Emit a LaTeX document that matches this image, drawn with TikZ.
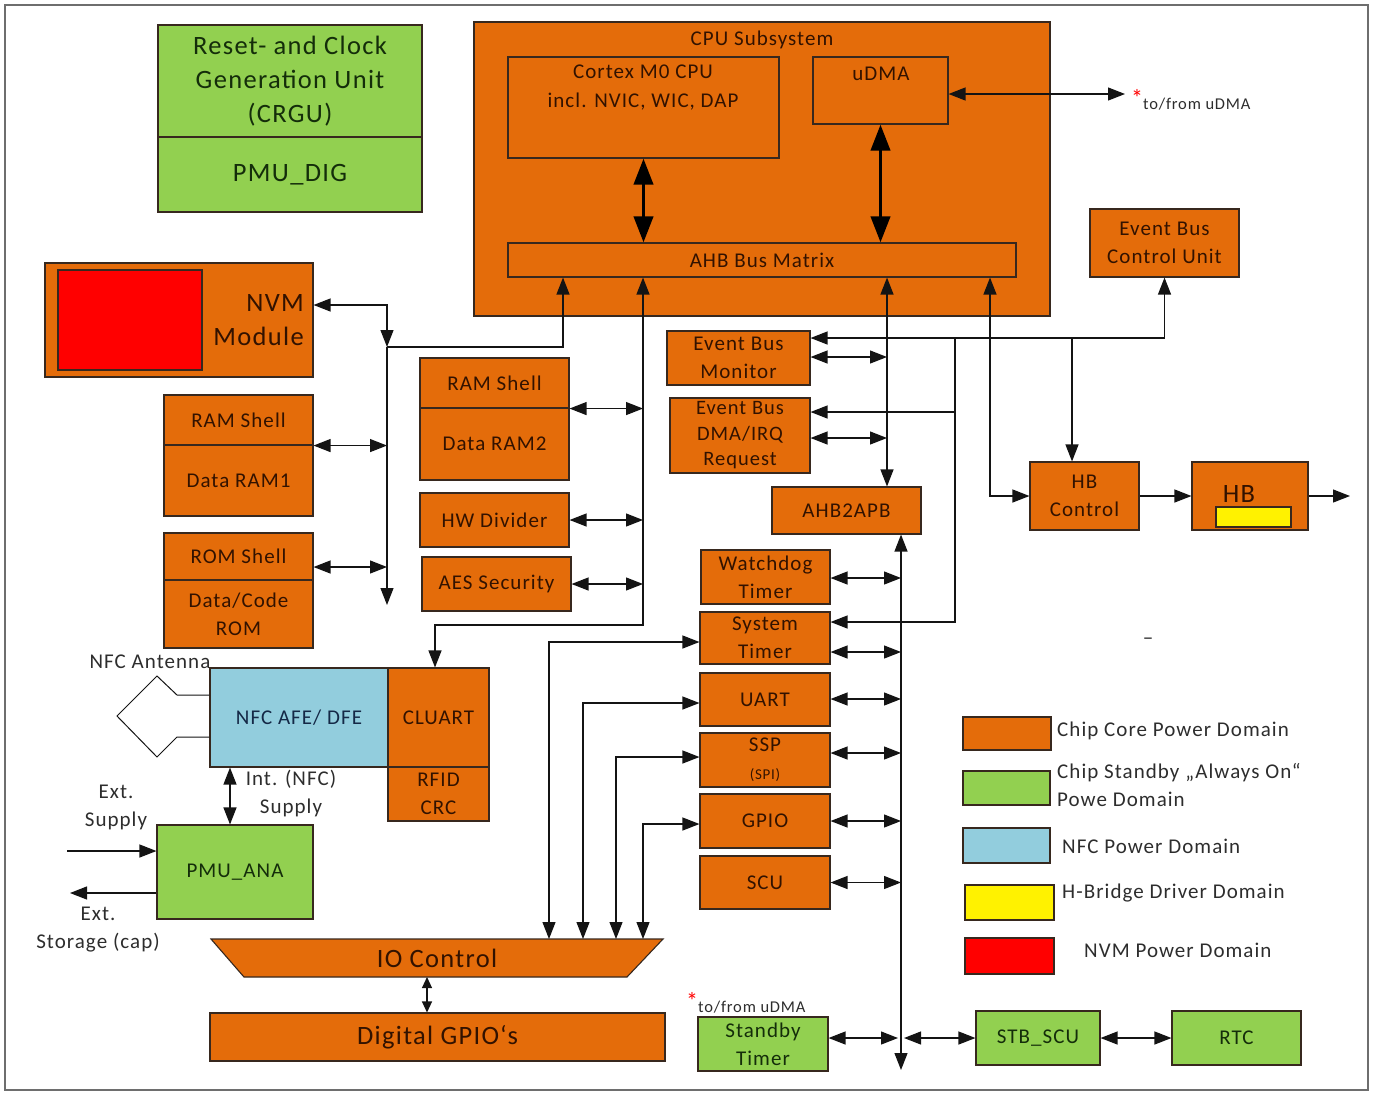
\documentclass[tikz,border=0pt]{standalone}
\usepackage{fontspec}
\setmainfont{Carlito}[LetterSpace=5]
\usetikzlibrary{arrows.meta,calc}
\definecolor{org}{RGB}{228,108,10}
\definecolor{grn}{RGB}{146,208,80}
\definecolor{nfcb}{RGB}{146,205,221}
\definecolor{edge}{RGB}{55,40,30}
\definecolor{txto}{RGB}{50,18,0}
\definecolor{txtg}{RGB}{20,45,10}
\definecolor{txtb}{RGB}{20,40,70}
\definecolor{txtd}{RGB}{45,45,45}
\definecolor{ln}{RGB}{20,20,20}
\definecolor{framec}{RGB}{110,110,110}
\newcommand\fntM{\fontsize{21}{28}\selectfont}
\newcommand\fntL{\fontsize{26.5}{34}\selectfont}
\newcommand\fntC{\fontsize{21}{29}\selectfont}
\newcommand\fntD{\fontsize{20.5}{25.5}\selectfont}
\newcommand\fntT{\fontsize{16.5}{20}\selectfont}
\newcommand\redstar{\textcolor{red}{\fontsize{24}{24}\selectfont\raisebox{3pt}{*}}}
\begin{document}
\begin{tikzpicture}[x=1pt,y=-1pt,
  rect/.style args={#1/#2/#3/#4}{minimum width={(#3)-(#1)}, minimum height={(#4)-(#2)}, at={({((#1)+(#3))/2},{((#2)+(#4))/2})}},
  box/.style={draw=edge, line width=1.1pt, inner sep=0pt, align=center, font=\fntM, text=txto},
  obox/.style={box, fill=org},
  gbox/.style={box, fill=grn, text=txtg},
  lbl/.style={inner sep=0pt, align=center, font=\fntM, text=txtd},
  con/.style={draw=ln, line width=1.2pt, -{Triangle[length=17pt,width=13pt]}},
  bi/.style={draw=ln, line width=1.2pt, {Triangle[length=17pt,width=13pt]}-{Triangle[length=17pt,width=13pt]}},
  bism/.style={draw=ln, line width=1.2pt, {Triangle[length=11pt,width=10pt]}-{Triangle[length=11pt,width=10pt]}},
  thk/.style={draw=black, line width=3.8pt, {Triangle[length=26pt,width=19pt]}-{Triangle[length=26pt,width=19pt]}},
]
\useasboundingbox (0,0) rectangle (1375,1093);
\draw[framec, line width=1.2pt] (5,5) rectangle (1368,1090);

% CRGU
\node[gbox, rect=158/25/422/137, font=\fntL] (crgu) {Reset- and Clock\\Generation Unit\\(CRGU)};
\node[gbox, rect=158/137/422/212, font=\fntL] (pmudig) {PMU\_DIG};

% CPU subsystem
\node[obox, rect=474/22/1050/316] (cpu) {};
\node[lbl, text=txto] (cputitle) at (762,40) {CPU Subsystem};
\node[obox, rect=508/57/779/158] (cortex) {};
\node[lbl, text=txto, font=\fntC] (cortext) at (643,88) {Cortex M0 CPU\\incl. NVIC, WIC, DAP};
\node[obox, rect=813/57/948/124] (udma) {};
\node[lbl, text=txto] (udmatext) at (881,74) {uDMA};
\node[obox, rect=508/243/1016/277] (ahb) {AHB Bus Matrix};
\coordinate (udmaout) at (1125,94);
\node[lbl, font=\fntT, anchor=west] (tfu1) at (1131,100) {\redstar to/from uDMA};

\node[obox, rect=1090/209/1239/277] (ebcu) {Event Bus\\Control Unit};

% NVM and memories
\node[obox, rect=45/263/313/377] (nvm) {};
\node[box, fill=red, rect=58/270/202/370] (nvmred) {};
\node[lbl, text=txto, font=\fntL, align=right, anchor=east] (nvmtext) at (304,320) {NVM\\Module};
\node[obox, rect=164/395/313/445] (ram1s) {RAM Shell};
\node[obox, rect=164/445/313/516] (ram1d) {Data RAM1};
\node[obox, rect=164/533/313/580] (roms) {ROM Shell};
\node[obox, rect=164/580/313/648] (romd) {Data/Code\\ROM};
\node[obox, rect=420/358/569/408] (ram2s) {RAM Shell};
\node[obox, rect=420/408/569/480] (ram2d) {Data RAM2};
\node[obox, rect=420/493/569/547] (hwdiv) {HW Divider};
\node[obox, rect=422/557/571/611] (aes) {AES Security};

% event bus, bridge, peripherals
\node[obox, rect=667/331/810/385] (ebm) {Event Bus\\Monitor};
\node[obox, rect=670/398/810/473, font=\fntD] (ebd) {Event Bus\\DMA/IRQ\\Request};
\node[obox, rect=772/487/921/534] (apb) {AHB2APB};
\node[obox, rect=701/550/830/604] (wdt) {Watchdog\\Timer};
\node[obox, rect=700/612/830/664] (stm) {System\\Timer};
\node[obox, rect=700/673/830/726] (uart) {UART};
\node[obox, rect=700/733/830/787] (ssp) {SSP\\{\fontsize{15}{15}\selectfont (SPI)}};
\node[obox, rect=700/794/830/848] (gpio) {GPIO};
\node[obox, rect=700/856/830/909] (scu) {SCU};

% H-bridge
\node[obox, rect=1030/462/1139/530] (hbc) {HB\\Control};
\node[obox, rect=1192/462/1308/530] (hb) {};
\node[box, fill=yellow, rect=1216/507/1291/527] (hby) {};
\node[lbl, text=txto, font=\fntL] (hbtext) at (1239,494) {HB};
\coordinate (hbout) at (1350,496);

% NFC
\node[box, fill=nfcb, text=txtb, rect=210/668/388/767] (nfc) {NFC AFE/ DFE};
\node[obox, rect=388/668/489/767] (cluart) {CLUART};
\node[obox, rect=388/767/489/821] (rfid) {RFID\\CRC};
\node[gbox, rect=157/825/313/919] (pmuana) {PMU\_ANA};
\draw[draw=ln, line width=1pt] (nfc.west |- 0,695) -- (177,695) -- (157,676) -- (117,716) -- (157,757) -- (177,737) -- (nfc.west |- 0,737);
\node[lbl] (antlbl) at (150,662) {NFC Antenna};
\node[lbl] (intlbl) at (291,793) {Int. (NFC)\\Supply};
\node[lbl] (extsup) at (116,807) {Ext.\\Supply};
\node[lbl] (extsto) at (98,930) {Ext.\\Storage (cap)};
\coordinate (extin) at (67,851);
\coordinate (extout) at (70,893);

% IO control
\draw[fill=org, draw=edge, line width=1.1pt] (211,939) -- (663,939) -- (627,977) -- (244,977) -- cycle;
\node[lbl, text=txto, font=\fntL] (ioc) at (437,958) {IO Control};
\coordinate (iotop) at (437,939);
\coordinate (iobot) at (427,977);
\node[obox, font=\fntL, rect=210/1013/665/1061] (dgpio) {Digital GPIO‘s};

% standby domain
\node[gbox, rect=698/1017/828/1071] (stby) {Standby\\Timer};
\node[gbox, rect=976/1011/1100/1065] (stbscu) {STB\_SCU};
\node[gbox, rect=1172/1011/1301/1065] (rtc) {RTC};
\node[lbl, font=\fntT, anchor=west] (tfu2) at (686,1003) {\redstar to/from uDMA};

% legend
\node[obox, rect=963/717/1051/750] (lg1) {};
\node[lbl, anchor=west] (lg1t) at (1057,731) {Chip Core Power Domain};
\node[gbox, rect=963/771/1050/805] (lg2) {};
\node[lbl, anchor=west, align=left] (lg2t) at (1057,785) {Chip Standby „Always On“\\Powe Domain};
\node[box, fill=nfcb, rect=963/828/1050/863] (lg3) {};
\node[lbl, anchor=west] (lg3t) at (1062,846) {NFC Power Domain};
\node[box, fill=yellow, rect=965/885/1054/920] (lg4) {};
\node[lbl, anchor=west] (lg4t) at (1062,893) {H-Bridge Driver Domain};
\node[box, fill=red, rect=965/938/1054/974] (lg5) {};
\node[lbl, anchor=west] (lg5t) at (1084,950) {NVM Power Domain};
\node[lbl] (dash) at (1148,641) {–};

% bus junction coordinates
\coordinate (nvmbus) at (387,347);
\coordinate (nvmend) at (387,605);
\coordinate (membus) at (643,625);
\coordinate (apbend) at (901,1070);
\coordinate (evx) at (955,338);
\coordinate (evh) at (1072,338);

% CPU internal
\draw[thk] (cortex.south) -- (ahb.north -| cortex.south);
\draw[thk] (udma.south) -- (ahb.north -| udma.south);
\draw[bi] (udma.east |- udmaout) -- (udmaout);

% NVM bus
\draw[bi] (nvm.east |- 0,305) -| (nvmbus);
\draw[con] (nvmbus) -- (nvmend);
\draw[con] (nvmbus) -| (ahb.south -| 563,0);
\draw[bi] (ram1s.south east) -- (ram1s.south east -| nvmbus);
\draw[bi] (roms.east |- 0,567) -- (nvmbus |- 0,567);

% memory bus
\draw[bi] (ahb.south -| membus) |- (435,625) -- (cluart.north -| 435,0);
\draw[bi] (ram2s.south east) -- (ram2s.south east -| membus);
\draw[bi] (hwdiv.east) -- (hwdiv.east -| membus);
\draw[bi] (aes.east) -- (aes.east -| membus);

% AHB to bridge and H-bridge
\draw[bi] (ahb.south -| 887,0) -- (apb.north -| 887,0);
\draw[bi] (ebm.east |- 0,357) -- (887,357);
\draw[bi] (ebd.east |- 0,438) -- (887,438);
\draw[bi] (ahb.south -| 990,0) |- (hbc.west);
\draw[con] (hbc.east) -- (hb.west);
\draw[con] (hb.east) -- (hbout);

% event bus
\draw[bi] (ebm.east |- evx) -| (ebcu.south);
\draw[con] (evx) |- (stm.east |- 0,622);
\draw[con] (evx |- 0,412) -- (ebd.east |- 0,412);
\draw[con] (evh) -- (hbc.north -| evh);

% APB bus
\draw[bi] (apb.south -| apbend) -- (apbend);
\draw[bi] (wdt.east |- 0,578) -- (apbend |- 0,578);
\draw[bi] (stm.east |- 0,652) -- (apbend |- 0,652);
\draw[bi] (uart.east |- 0,699) -- (apbend |- 0,699);
\draw[bi] (ssp.east |- 0,753) -- (apbend |- 0,753);
\draw[bi] (gpio.east |- 0,821) -- (apbend |- 0,821);
\draw[bi] (scu.east) -- (apbend |- scu.east);
\draw[bi] (stby.east |- 0,1038) -- (898,1038);
\draw[bi] (904,1038) -- (stbscu.west |- 0,1038);
\draw[bi] (stbscu.east) -- (rtc.west);

% IO control
\draw[bi] (iotop -| 549,0) |- (stm.west |- 0,642);
\draw[bi] (iotop -| 583,0) |- (uart.west |- 0,703);
\draw[bi] (iotop -| 616,0) |- (ssp.west |- 0,757);
\draw[bi] (iotop -| 643,0) |- (gpio.west |- 0,824);
\draw[bism] (iobot) -- (dgpio.north -| iobot);

% NFC
\draw[bi] (nfc.south -| 230,0) -- (pmuana.north -| 230,0);
\draw[con] (extin) -- (pmuana.west |- extin);
\draw[con] (pmuana.west |- extout) -- (extout);
\end{tikzpicture}
\end{document}
